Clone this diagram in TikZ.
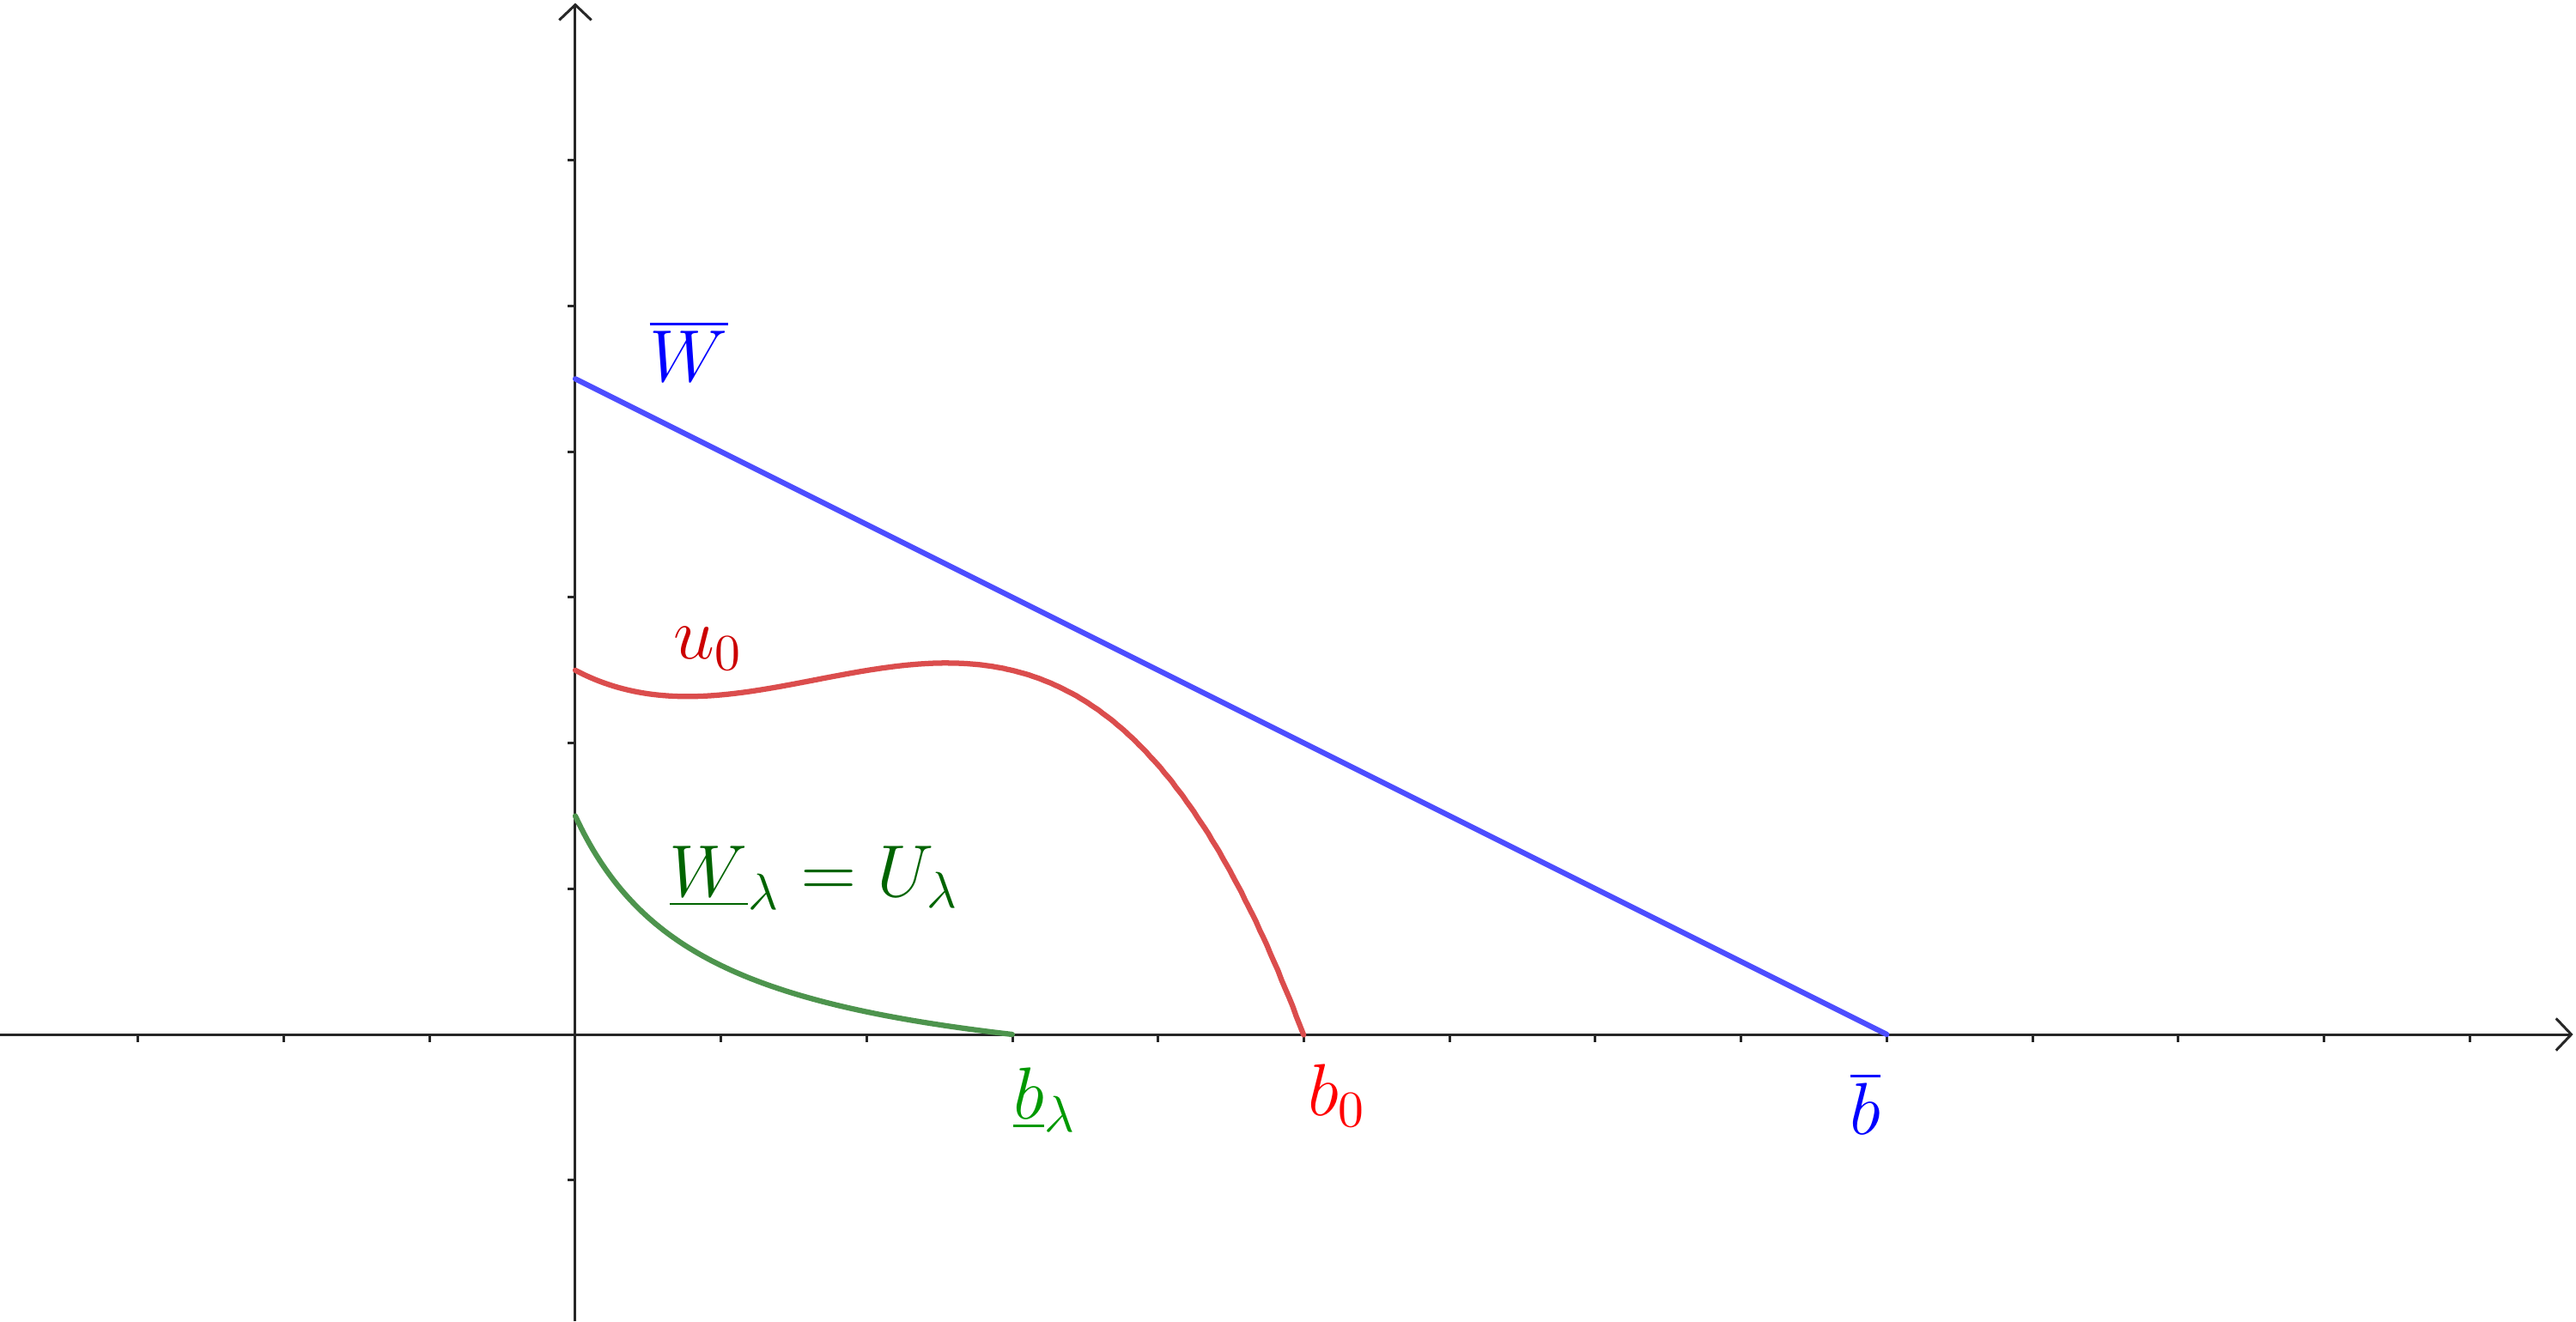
\documentclass[tikz,border=0pt]{standalone}
\usetikzlibrary{arrows.meta}
\definecolor{axisgray}{RGB}{38,38,38}
\definecolor{lineblue}{RGB}{77,77,255}
\definecolor{curvered}{RGB}{219,77,77}
\definecolor{curvegreen}{RGB}{77,148,77}
\definecolor{labblue}{RGB}{0,0,255}
\definecolor{labdred}{RGB}{204,0,0}
\definecolor{labred}{RGB}{255,0,0}
\definecolor{labdgreen}{RGB}{0,100,0}
\definecolor{labgreen}{RGB}{0,153,0}
\begin{document}
\begin{tikzpicture}[x=1cm,y=1cm,
  axisline/.style={draw=axisgray, line width=0.5pt, -{Straight Barb[length=1.05mm,width=2.2mm]}},
  tickmark/.style={draw=axisgray, line width=0.5pt},
  curve/.style={line width=1.05pt, line cap=round, line join=round},
  lab/.style={inner sep=0pt, anchor=base west, font=\Large}]
\useasboundingbox (-3.948,-1.968) rectangle (13.730,7.101);
% axes
\coordinate (xstart) at (-3.948,0);
\coordinate (xend) at (13.71,0);
\coordinate (ystart) at (0,-1.968);
\coordinate (yend) at (0,7.08);
\draw[axisline] (xstart) -- (xend);
\draw[axisline] (ystart) -- (yend);
\foreach \i in {-3,-2,-1,1,2,...,13} \draw[tickmark] (\i,0) -- (\i,-0.05);
\foreach \j in {-1,1,2,...,6} \draw[tickmark] (0,\j) -- (-0.05,\j);
% upper barrier
\coordinate (wtop) at (0,4.5);
\coordinate (bbarpt) at (9,0);
\draw[curve, draw=lineblue] (wtop) -- (bbarpt);
% u0
\draw[curve, draw=curvered] plot[domain=0:5, samples=200, variable=\x]
  ({\x}, {2.5 + \x*(-0.529633 + \x*(0.469374 + \x*(-0.116850 + \x*(0.008774 - 0.0007884*\x))))});
% lower barrier
\draw[curve, draw=curvegreen] plot[domain=0:3, samples=150, variable=\x]
  ({\x}, {1.755*(1/(\x+0.9) - 1/3.9)});
% labels
\node[lab, text=labblue] (Wbar) at (0.503,4.481) {$\overline{W}$};
\node[lab, text=labdred] (u0) at (0.670,2.576) {$u_0$};
\node[lab, text=labdgreen] (Wl) at (0.641,0.945) {$\underline{W}_\lambda = U_\lambda$};
\node[lab, text=labgreen] (bl) at (3.0,-0.578) {$\underline{b}_\lambda$};
\node[lab, text=labred] (b0) at (5.02,-0.557) {$b_0$};
\node[lab, text=labblue] (bbar) at (8.742,-0.686) {$\overline{b}$};
\end{tikzpicture}
\end{document}
